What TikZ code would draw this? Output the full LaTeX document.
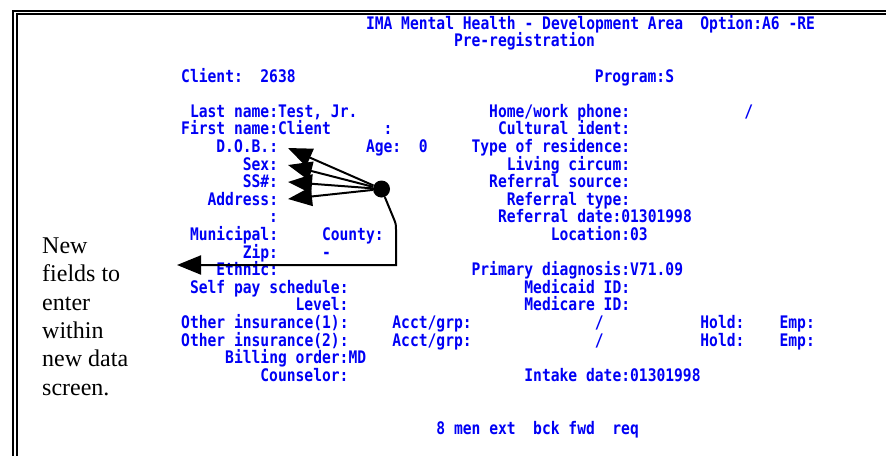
\documentclass[tikz,border=0pt]{standalone}
\usepackage{fontspec}
\usetikzlibrary{arrows.meta}
\newfontfamily\scrfont[FakeStretch=0.846]{DejaVu Sans Mono Bold}
\newfontfamily\notefont{Liberation Serif}
\definecolor{scrblue}{RGB}{0,0,245}
\tikzset{
  scr/.style={anchor=base west, inner sep=0pt, text=scrblue,
              font=\scrfont\fontsize{17.3}{17.6}\selectfont},
  note/.style={anchor=base west, inner sep=0pt,
               font=\notefont\fontsize{24}{28.3}\selectfont},
  frameline/.style={line width=2pt},
  pointer/.style={line width=2pt, -{Triangle[length=24pt,width=19pt]}},
  hubdot/.style={circle, fill=black, minimum size=17pt, inner sep=0pt},
}
% screen text on a character grid: name, column, row, text
\newcommand\scrtxt[4]{\node[scr] (#1) at ({181+8.8*#2},{29.3+17.6*#3}) {#4};}
\begin{document}
\begin{tikzpicture}[x=1pt,y=-1pt]
\useasboundingbox (0,0) rectangle (886,456);
\fill[white] (0,0) rectangle (886,456);

% double frame
\draw[frameline] (886,10.7) -- (13,10.7) -- (13,456);
\draw[frameline] (886,14.4) -- (16.6,14.4) -- (16.6,456);

% header
\scrtxt{title}{21}{0}{IMA Mental Health - Development Area}
\scrtxt{option}{59}{0}{Option:A6 -RE}
\scrtxt{prereg}{31}{1}{Pre-registration}
\scrtxt{client}{0}{3}{Client:}
\scrtxt{clientno}{9}{3}{2638}
\scrtxt{program}{47}{3}{Program:S}

% left column
\scrtxt{lastname}{1}{5}{Last name:Test, Jr.}
\scrtxt{firstname}{0}{6}{First name:Client}
\scrtxt{fncolon}{23}{6}{:}
\scrtxt{dob}{4}{7}{D.O.B.:}
\scrtxt{age}{21}{7}{Age:}
\scrtxt{ageval}{27}{7}{0}
\scrtxt{sex}{7}{8}{Sex:}
\scrtxt{ssn}{7}{9}{SS\#:}
\scrtxt{address}{3}{10}{Address:}
\scrtxt{addrtwo}{10}{11}{:}
\scrtxt{municipal}{1}{12}{Municipal:}
\scrtxt{county}{16}{12}{County:}
\scrtxt{zip}{7}{13}{Zip:}
\scrtxt{zipdash}{16}{13}{-}
\scrtxt{ethnic}{4}{14}{Ethnic:}
\scrtxt{selfpay}{1}{15}{Self pay schedule:}
\scrtxt{level}{13}{16}{Level:}
\scrtxt{insone}{0}{17}{Other insurance(1):}
\scrtxt{acctone}{24}{17}{Acct/grp:}
\scrtxt{slashone}{47}{17}{/}
\scrtxt{holdone}{59}{17}{Hold:}
\scrtxt{empone}{68}{17}{Emp:}
\scrtxt{instwo}{0}{18}{Other insurance(2):}
\scrtxt{accttwo}{24}{18}{Acct/grp:}
\scrtxt{slashtwo}{47}{18}{/}
\scrtxt{holdtwo}{59}{18}{Hold:}
\scrtxt{emptwo}{68}{18}{Emp:}
\scrtxt{billing}{5}{19}{Billing order:MD}
\scrtxt{counselor}{9}{20}{Counselor:}

% right column
\scrtxt{phone}{35}{5}{Home/work phone:}
\scrtxt{phoneslash}{64}{5}{/}
\scrtxt{cultural}{36}{6}{Cultural ident:}
\scrtxt{residence}{33}{7}{Type of residence:}
\scrtxt{living}{37}{8}{Living circum:}
\scrtxt{refsource}{35}{9}{Referral source:}
\scrtxt{reftype}{37}{10}{Referral type:}
\scrtxt{refdate}{36}{11}{Referral date:01301998}
\scrtxt{location}{42}{12}{Location:03}
\scrtxt{diagnosis}{33}{14}{Primary diagnosis:V71.09}
\scrtxt{medicaid}{39}{15}{Medicaid ID:}
\scrtxt{medicare}{39}{16}{Medicare ID:}
\scrtxt{intake}{39}{20}{Intake date:01301998}

% function key line
\scrtxt{keysa}{29}{23}{8 men ext}
\scrtxt{keysb}{40}{23}{bck fwd}
\scrtxt{keysc}{49}{23}{req}

% side note
\node[note] (noteA) at (42,253.5) {New};
\node[note] (noteB) at (42,281.8) {fields to};
\node[note] (noteC) at (42,310.1) {enter};
\node[note] (noteD) at (42,338.4) {within};
\node[note] (noteE) at (42,366.7) {new data};
\node[note] (noteF) at (42,395) {screen.};

% pointers to the new fields
\node[hubdot] (hub) at (381.5,189) {};
\coordinate (dobtip) at (288,148);
\coordinate (sextip) at (288,165);
\coordinate (ssntip) at (288,182);
\coordinate (addrtip) at (288,199);
\draw[pointer] (hub) -- (dobtip);
\draw[pointer] (hub) -- (sextip);
\draw[pointer] (hub) -- (ssntip);
\draw[pointer] (hub) -- (addrtip);

\coordinate (bendA) at (393.5,218);
\coordinate (bendB) at (396,232);
\coordinate (cornerC) at (396,265);
\coordinate (notetip) at (177,265);
\draw[pointer] (hub) -- (bendA) .. controls (396,224) .. (bendB) -- (cornerC) -- (notetip);
\end{tikzpicture}
\end{document}
